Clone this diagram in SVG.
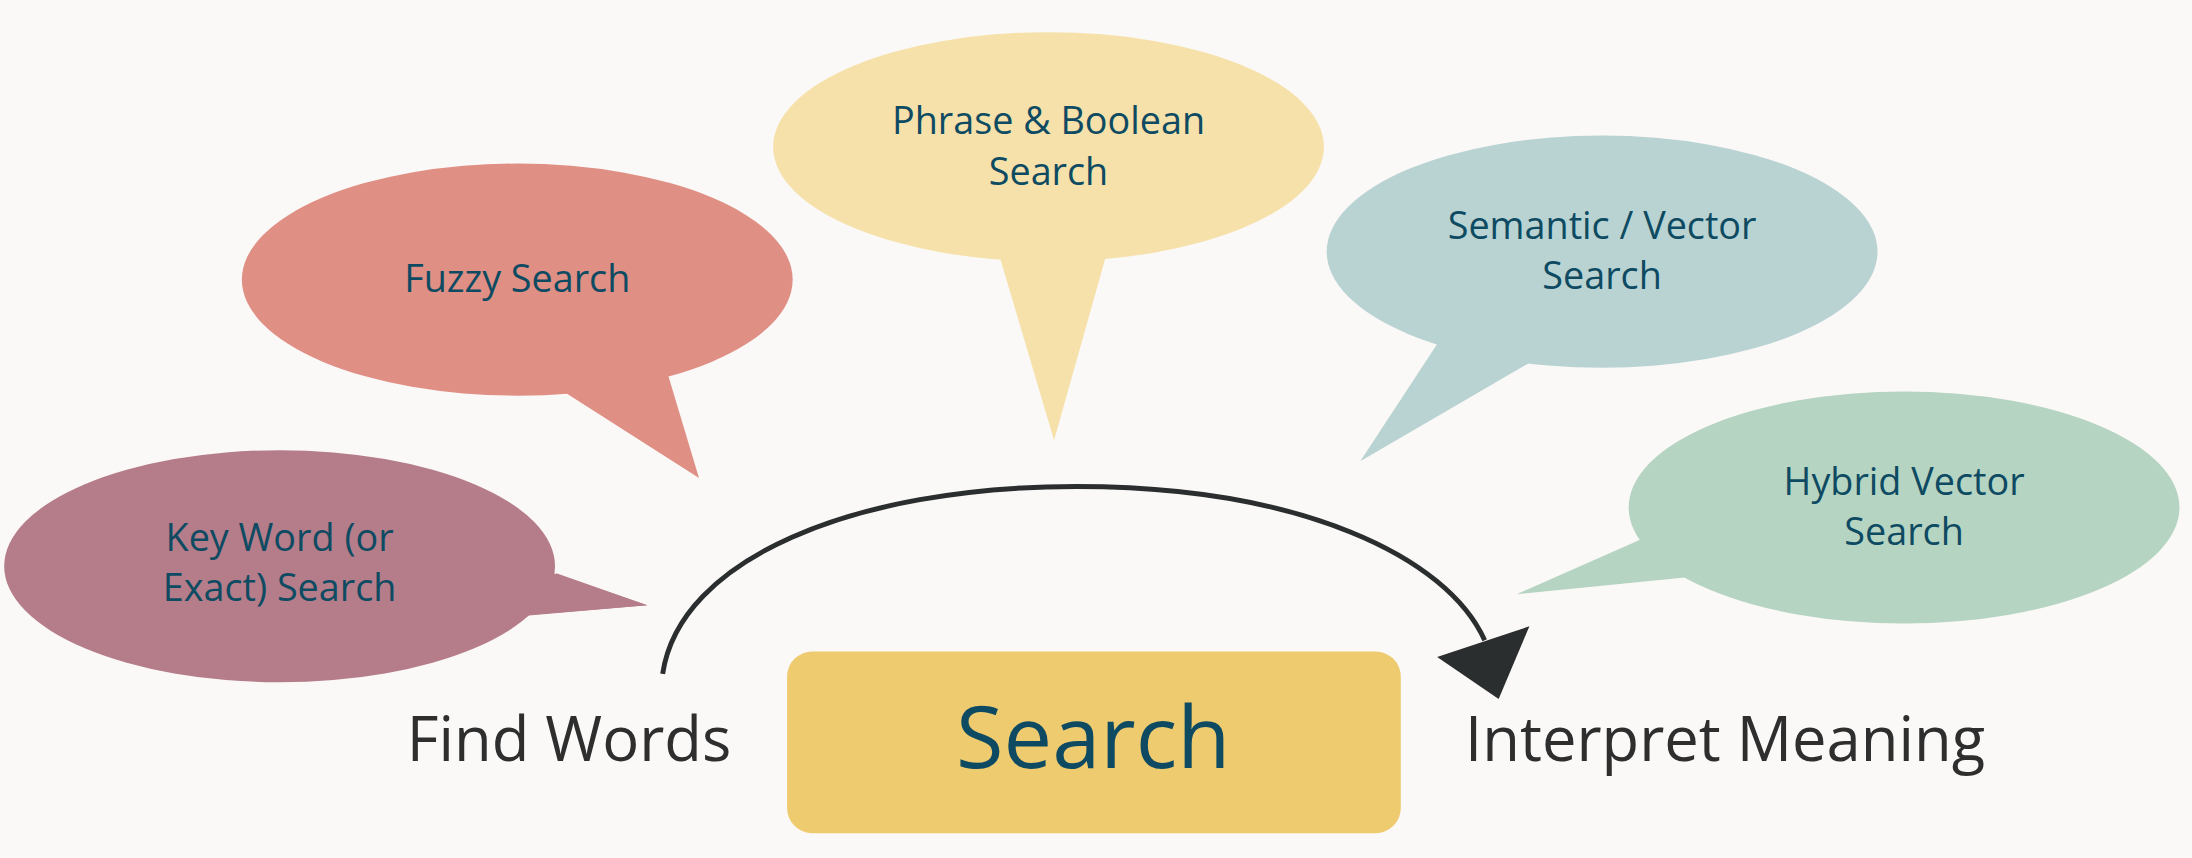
<svg xmlns="http://www.w3.org/2000/svg" width="2192" height="858" viewBox="0 0 2192 858">
<style>
.t{font-family:"Open Sans","Noto Sans",sans-serif;font-size:27px;fill:#0e4b62;text-anchor:middle}
.l{font-family:"Open Sans","Noto Sans",sans-serif;font-size:44px;fill:#2e2e2e;text-anchor:middle}
</style>
<rect width="2192" height="858" fill="#fbf9f7"/>
<g transform="scale(1.398)">
<g id="keyword"><path d="M398,410 L463,433 L378,440 Z" fill="#b57d89"/><ellipse cx="200" cy="405" rx="197" ry="83" fill="#b57d89"/><path d="M390,408 L463,433 L370,441 Z" fill="#b57d89"/><text class="t" x="200" y="394">Key Word (or</text><text class="t" x="200" y="430">Exact) Search</text></g>
<g id="fuzzy"><ellipse cx="370" cy="200" rx="197" ry="83" fill="#e08f84"/><path d="M400,278 L500,342 L476,262 Z" fill="#e08f84"/><text class="t" x="370" y="209">Fuzzy Search</text></g>
<g id="phrase"><ellipse cx="750" cy="105" rx="197" ry="82" fill="#f5e1a9"/><path d="M714,180 L754,315 L792,180 Z" fill="#f5e1a9"/><text class="t" x="750" y="96">Phrase &amp; Boolean</text><text class="t" x="750" y="132">Search</text></g>
<g id="semantic"><ellipse cx="1146" cy="180" rx="197" ry="83" fill="#b9d3d3"/><path d="M1032,240 L973,330 L1100,256 Z" fill="#b9d3d3"/><text class="t" x="1146" y="171">Semantic / Vector</text><text class="t" x="1146" y="207">Search</text></g>
<g id="hybrid"><ellipse cx="1362" cy="363" rx="197" ry="83" fill="#b6d4c2"/><path d="M1178,384 L1085,425 L1216,412 Z" fill="#b6d4c2"/><text class="t" x="1362" y="354">Hybrid Vector</text><text class="t" x="1362" y="390">Search</text></g>
<g id="search"><rect x="563" y="466" width="439" height="130" rx="18" fill="#efcb70"/><text x="782" y="549" font-family="'Open Sans','Noto Sans',sans-serif" font-size="62" fill="#0e4b62" text-anchor="middle">Search</text></g>
<g id="findwords"><text class="l" x="407" y="544">Find Words</text></g>
<g id="interpret"><text class="l" x="1234" y="544">Interpret Meaning</text></g>
<g id="connectors"><path d="M474,482 C486,400 610,348 770,348 C930,348 1035,398 1062,458" fill="none" stroke="#2a2e2e" stroke-width="3.5"/><polygon points="1028,470 1094,448 1072,500" fill="#2a2e2e"/></g>
</g>
</svg>
